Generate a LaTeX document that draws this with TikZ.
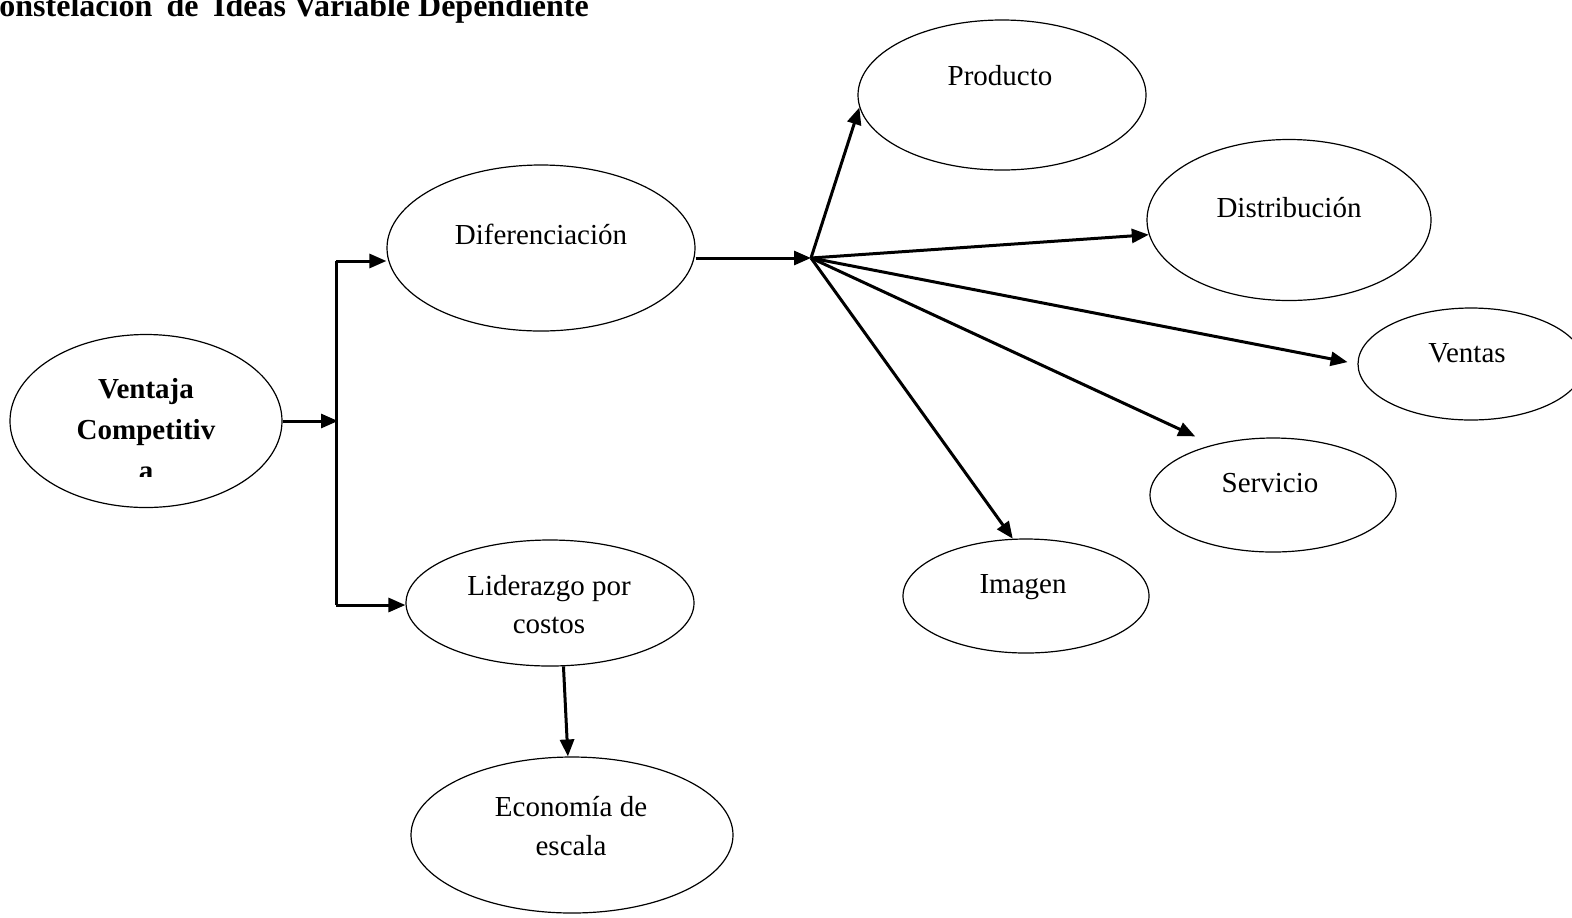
\documentclass[tikz,border=0pt]{standalone}
\usepackage{fontspec}
\setmainfont{Liberation Serif}
\usetikzlibrary{shapes.geometric,arrows.meta,calc}
\begin{document}
\begin{tikzpicture}[x=0.5pt,y=-0.5pt,
  oval/.style={draw, ellipse, line width=0.6pt, inner sep=0pt},
  lbl/.style={anchor=base, inner sep=0pt, font=\fontsize{14.5}{17}\selectfont},
  blbl/.style={anchor=base, inner sep=0pt, font=\fontsize{14.5}{17}\selectfont\bfseries},
  link/.style={line width=1.5pt, -{Triangle[length=8.5pt,width=7pt]}},
  bar/.style={line width=1.5pt}]
\useasboundingbox (0,0) rectangle (1572,917);
\clip (0,0) rectangle (1572,917);

% title
\node[anchor=base west, inner sep=0pt, font=\fontsize{16}{19}\selectfont\bfseries] (title) at (-1,16)
  {onstelación\hspace{0.45em}de\hspace{0.45em}Ideas Variable Dependiente};

% ovals
\node[oval, minimum width=136pt, minimum height=86.5pt] (ven)  at (146,421) {};
\node[oval, minimum width=154pt, minimum height=83pt]   (dif)  at (541,248) {};
\node[oval, minimum width=144pt, minimum height=63pt]   (lid)  at (550,603) {};
\node[oval, minimum width=161pt, minimum height=78pt]   (eco)  at (572,835) {};
\node[oval, minimum width=144pt, minimum height=75pt]   (prod) at (1002,95) {};
\node[oval, minimum width=142pt, minimum height=80.5pt] (dist) at (1289,220) {};
\node[oval, minimum width=113pt, minimum height=56pt]   (vent) at (1471,364) {};
\node[oval, minimum width=123pt, minimum height=57pt]   (serv) at (1273,495) {};
\node[oval, minimum width=123pt, minimum height=57pt]   (img)  at (1026,596) {};

% labels
\node[blbl] (venA) at (146,398) {Ventaja};
\node[blbl] (venB) at (146,439) {Competitiv};
\begin{scope}
  \clip (100,440) rectangle (200,476);
  \node[blbl] (venC) at (146,480) {a};
\end{scope}
\node[lbl] (difL)  at (541,244) {Diferenciación};
\node[lbl] (lidA)  at (549,595) {Liderazgo por};
\node[lbl] (lidB)  at (549,633) {costos};
\node[lbl] (ecoA)  at (571,816) {Economía de};
\node[lbl] (ecoB)  at (571,855) {escala};
\node[lbl] (prodL) at (1000,85) {Producto};
\node[lbl] (distL) at (1289,217) {Distribución};
\node[lbl] (ventL) at (1467,362) {Ventas};
\node[lbl] (servL) at (1270,492) {Servicio};
\node[lbl] (imgL)  at (1023,593) {Imagen};

% junction points
\coordinate (jn)   at (338,421);
\coordinate (jtop) at (336,261);
\coordinate (jbot) at (336,605);
\coordinate (hub)  at (811,258);

% connectors
\draw[link] (ven.east) -- (jn);
\draw[bar] (jtop) -- (jbot);
\draw[link] (jtop) -- (jtop -| dif.west);
\draw[link] (jbot) -- (jbot -| lid.west);
\draw[link] (dif.east |- hub) -- (hub);
\draw[link] (lid.282) -- (eco.93);

\draw[link] (hub) -- (prod.185);
\draw[link] (hub) -- (dist.186);
\draw[link, shorten >=5pt] (hub) -- (vent.west);
\draw[link, shorten >=9.8pt] (hub) -- (serv.140);
\draw[link] (hub) -- (img.103);
\end{tikzpicture}
\end{document}
